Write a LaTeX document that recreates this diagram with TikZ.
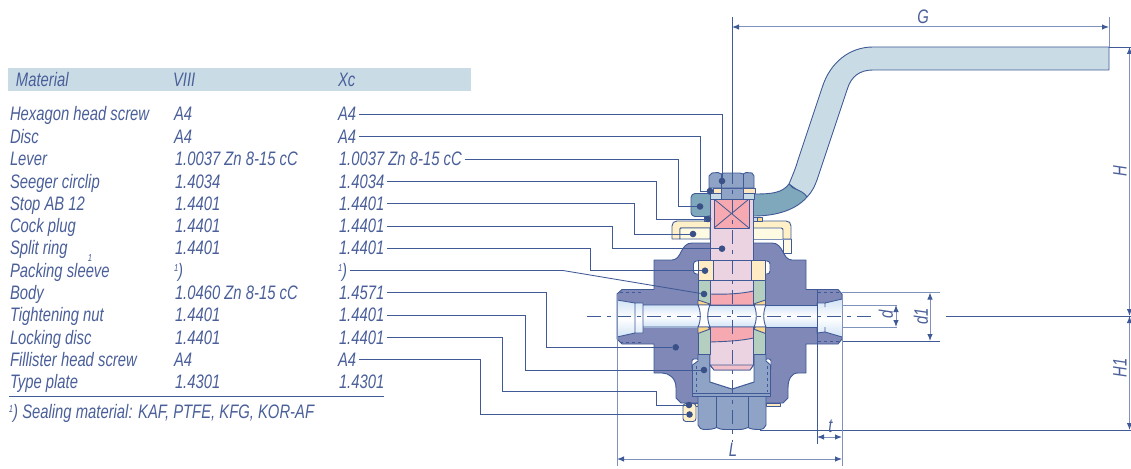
\documentclass[tikz,border=0pt]{standalone}
\usepackage{fontspec}
\setmainfont[FakeStretch=0.76]{Liberation Sans}
\usetikzlibrary{arrows.meta}
\definecolor{linecol}{HTML}{3F5A96}
\definecolor{textcol}{HTML}{4A5F99}
\definecolor{dimcol}{HTML}{7F92BC}
\definecolor{bandcol}{HTML}{C9DCE6}
\definecolor{bodycol}{HTML}{7F88B6}
\definecolor{boltcol}{HTML}{8FA3C6}
\definecolor{levercol}{HTML}{7FA8BC}
\definecolor{plugcol}{HTML}{ECD3E2}
\definecolor{redcol}{HTML}{F6A9B0}
\definecolor{ringcol}{HTML}{FFEBC4}
\definecolor{wedgecol}{HTML}{FFD58A}
\definecolor{stopcol}{HTML}{FFF0C8}
\definecolor{creamcol}{HTML}{FFFBE3}
\definecolor{greencol}{HTML}{B4CFBF}
\definecolor{borecol}{HTML}{D2E3F6}
\newcommand{\fnmark}{\raisebox{5.5pt}{\fontsize{10}{10}\selectfont 1}}
\tikzset{
  celltext/.style={anchor=west,inner sep=0pt,outer xsep=3pt,text=textcol,text height=13pt,text depth=0pt,
    font=\fontsize{19.5}{21}\selectfont\itshape},
  dimtext/.style={inner sep=0pt,text=textcol,font=\fontsize{19.5}{21}\selectfont\itshape},
  part/.style={draw=linecol,line width=.9pt,line join=round},
  leader/.style={draw=linecol,line width=.9pt},
  partdot/.style={circle,fill=linecol!90!black,inner sep=0pt,minimum size=6.6pt},
  dimline/.style={draw=dimcol,line width=1pt,{Latex[length=7pt,width=5.5pt,color=linecol]}-{Latex[length=7pt,width=5.5pt,color=linecol]}},
  extline/.style={draw=linecol,line width=.9pt},
  centreline/.style={draw=linecol,line width=.8pt,dash pattern=on 14pt off 6pt on 4pt off 6pt},
  bore/.style={top color=borecol,bottom color=borecol,middle color=white}
}
\begin{document}
\begin{tikzpicture}[x=1pt,y=-1pt]
    \useasboundingbox (0,0) rectangle (1131,468);

    % Table head
    \fill[bandcol] (8,68) rectangle (471,91);
    \node[celltext] (headmat) at (13,80.5) {Material};
    \node[celltext] (headviii) at (170,80.5) {VIII};
    \node[celltext] (headxc) at (335,80.5) {Xc};

    % Table rows
    \node[celltext] (namehex) at (7,114.5) {Hexagon head screw};
    \node[celltext] (viiihex) at (171,114.5) {A4};
    \node[celltext] (xchex) at (335,114.5) {A4};
    \node[celltext] (namedisc) at (7,136.8) {Disc};
    \node[celltext] (viiidisc) at (171,136.8) {A4};
    \node[celltext] (xcdisc) at (335,136.8) {A4};
    \node[celltext] (namelever) at (7,159) {Lever};
    \node[celltext] (viiilever) at (172,159) {1.0037 Zn 8-15 cC};
    \node[celltext] (xclever) at (336,159) {1.0037 Zn 8-15 cC};
    \node[celltext] (nameclip) at (7,181.5) {Seeger circlip};
    \node[celltext] (viiiclip) at (172,181.5) {1.4034};
    \node[celltext] (xcclip) at (336,181.5) {1.4034};
    \node[celltext] (namestop) at (7,203.7) {Stop AB 12};
    \node[celltext] (viiistop) at (172,203.7) {1.4401};
    \node[celltext] (xcstop) at (336,203.7) {1.4401};
    \node[celltext] (nameplug) at (7,226) {Cock plug};
    \node[celltext] (viiiplug) at (172,226) {1.4401};
    \node[celltext] (xcplug) at (336,226) {1.4401};
    \node[celltext] (namering) at (7,248) {Split ring};
    \node[celltext] (viiiring) at (172,248) {1.4401};
    \node[celltext] (xcring) at (336,248) {1.4401};
    \node[celltext] (namesleeve) at (7,270.5) {Packing sleeve};
    \node[celltext] (viiisleeve) at (171,270.5) {\fnmark)};
    \node[celltext] (xcsleeve) at (335,270.5) {\fnmark)};
    \node[inner sep=0pt,text=textcol,font=\fontsize{10}{10}\selectfont\itshape] (stray) at (90,258.5) {1};
    \node[celltext] (namebody) at (7,292.7) {Body};
    \node[celltext] (viiibody) at (172,292.7) {1.0460 Zn 8-15 cC};
    \node[celltext] (xcbody) at (336,292.7) {1.4571};
    \node[celltext] (namenut) at (7,315) {Tightening nut};
    \node[celltext] (viiinut) at (172,315) {1.4401};
    \node[celltext] (xcnut) at (336,315) {1.4401};
    \node[celltext] (namelock) at (7,337.5) {Locking disc};
    \node[celltext] (viiilock) at (172,337.5) {1.4401};
    \node[celltext] (xclock) at (336,337.5) {1.4401};
    \node[celltext] (namefill) at (7,359.7) {Fillister head screw};
    \node[celltext] (viiifill) at (171,359.7) {A4};
    \node[celltext] (xcfill) at (335,359.7) {A4};
    \node[celltext] (nametype) at (7,381.8) {Type plate};
    \node[celltext] (viiitype) at (172,381.8) {1.4301};
    \node[celltext] (xctype) at (336,381.8) {1.4301};
    \draw[leader] (9,396) -- (384,396);
    \node[celltext] (footnote) at (6,411.5) {\fnmark) Sealing material: KAF, PTFE, KFG, KOR-AF};

    % Lever
    \draw[part,fill=bandcol] (789,184) .. controls (794,172) and (796,167) .. (798,160) -- (822,88)
        .. controls (830,62) and (850,47) .. (873,47) -- (1109,47) -- (1109,70) -- (873,70)
        .. controls (860,70) and (851,76) .. (847,90) -- (818,177) .. controls (815,186) and (812,192) .. (807,197) -- cycle;
    \draw[part,fill=levercol] (750,194) -- (754,194) .. controls (772,194) and (782,193) .. (789,184)
        .. controls (792,190) and (802,189) .. (807,197) .. controls (796,210) and (776,216) .. (754,216) -- (750,216) -- cycle;
    \draw[part,fill=levercol,rounded corners=4pt] (712,193.5) -- (691,193.5) -- (691,216.5) -- (712,216.5) -- cycle;

    % Stop, the body is laid over it
    \fill[creamcol] (753,228.5) -- (781,228.5) .. controls (782.5,228.5) and (783,229) .. (783,230) -- (783,239) -- (753,239) -- cycle;
    \fill[creamcol] (783,239) rectangle (791,253);
    \draw[part,fill=stopcol] (672,239) -- (672,226) .. controls (672,223) and (674,221) .. (677,221) -- (786,221)
        .. controls (789,221) and (791,223) .. (791,226) -- (791,239) -- (783,239) -- (783,230) .. controls (783,229) and (782.5,228) .. (781,228) -- (682,228) .. controls (681,228) and (680,228) .. (680,229) -- (680,239) -- cycle;
    \draw[part,fill=creamcol] (680,239) -- (680,229) .. controls (680,228) and (681,228) .. (682,228) -- (710,228) -- (710,239) -- cycle;
    \draw[part] (783,239) -- (783,253) -- (791,253) -- (791,239);
    \draw[dimcol,line width=.9pt] (753,239) -- (791,239);

    % Body
    \draw[part,fill=bodycol] (617,294) -- (622,289.5) -- (654,289.5) -- (654,260) -- (672,260)
        .. controls (682,260) and (680,243) .. (692,243) -- (772,243) .. controls (784,243) and (782,260) .. (792,260)
        -- (806,260) -- (806,289.5) -- (838,289.5) -- (842,294) -- (842,339) -- (838,344) -- (806,344) -- (806,373) -- (798,373)
        .. controls (791,373) and (788,380) .. (788,388) -- (788,398) -- (783,403) -- (681,403) -- (676,398) -- (676,388)
        .. controls (676,378) and (669,373) .. (662,373) -- (654,373) -- (654,344) -- (622,344) -- (617,339) -- cycle;
    \draw[linecol,line width=1pt,dashed] (620,292) -- (642,292) (620,342) -- (642,342) (818,292) -- (840,292) (818,341) -- (840,341);

    % Bore
    \shade[bore] (617,305) rectangle (842,327);
    \shade[bore] (617,300) -- (635,303) -- (643,303) -- (643,333) -- (635,333) -- (617,337) -- cycle;
    \shade[bore] (817,303) -- (825,303) -- (842,299) -- (842,337) -- (825,332) -- (817,333) -- cycle;
    \draw[part] (617,300) -- (635,303) -- (643,303) -- (643,305) -- (698,305) (617,337) -- (635,333) -- (643,333) -- (643,327) -- (698,327) (635,303) -- (635,333) (643,305) -- (643,327);
    \draw[part] (766,305) -- (817,305) (766,327) -- (817,327);
    \draw[part] (817,305) -- (817,303) -- (825,303) -- (842,299) (817,327) -- (817,333) -- (825,332) -- (842,337) (825,303) -- (825,307) (825,327) -- (825,332);

    % Stem with the square
    \draw[part,fill=plugcol] (710,199) rectangle (753.5,305);
    \draw[part,fill=redcol] (714,199) rectangle (749,228);
    \draw[linecol,line width=.8pt] (714,199) -- (749,228) (714,228) -- (749,199);
    \draw[part,fill=redcol] (710,294) .. controls (725,294.5) and (740,294) .. (753.5,291) -- (753.5,305) -- (710,305) -- cycle;
    \draw[part,fill=boltcol] (721,188) rectangle (743,199);

    % Screw head, disc, circlip
    \draw[part,fill=bandcol] (710,193) rectangle (721,199);
    \draw[part,fill=bandcol] (743,193) rectangle (754,199);
    \draw[part,fill=wedgecol!55!white] (713,188) rectangle (721,193);
    \draw[part,fill=wedgecol!55!white] (743,188) rectangle (755.5,193);
    \draw[part,fill=boltcol] (709,188) -- (709,176) -- (712,173) -- (718,172.5) -- (721,174) -- (724,173) -- (740,173) -- (743,174) -- (746,172.5) -- (752,173) -- (754,176) -- (754,188) -- cycle;
    \draw[linecol,line width=.8pt] (721,174) -- (721,188) (743,174) -- (743,188);
    \draw[part,fill=white] (704,217) rectangle (710,221);
    \draw[part,fill=bandcol] (753.5,217) rectangle (757,221);
    \draw[part,fill=wedgecol] (757,217) -- (762,217) -- (762,221) -- (757,221) -- cycle;

    % Packing stack above the bore
    \draw[part,fill=white,rounded corners=3pt] (693.5,261) rectangle (703,274);
    \draw[part,fill=white,rounded corners=3pt] (760,261) rectangle (770,274);
    \draw[part,fill=ringcol] (698,260.5) rectangle (713,280);
    \draw[part,fill=ringcol] (751,260.5) rectangle (765.5,280);
    \draw[part,fill=plugcol] (713,260.5) rectangle (751,280);
    \draw[part,fill=greencol] (698,280) rectangle (710,305);
    \draw[part,fill=greencol] (753.5,280) rectangle (765.5,305);
    \draw[part,fill=wedgecol] (698,300) -- (710,304) -- (708,305) -- (698,305) -- cycle;
    \draw[part,fill=wedgecol] (765.5,300) -- (753.5,304) -- (755.5,305) -- (765.5,305) -- cycle;

    % Pockets in the bore
    \draw[part,fill=white] (698,305) .. controls (701,311) and (701,321) .. (698,327) -- (710,327) .. controls (707,321) and (707,311) .. (710,305) -- cycle;
    \draw[part,fill=white] (754,305) .. controls (757,311) and (757,321) .. (754,327) -- (766,327) .. controls (763,321) and (763,311) .. (766,305) -- cycle;

    % Tightening nut and its screw
    \draw[part,fill=white,rounded corners=2pt] (692,359) rectangle (699,370);
    \draw[part,fill=white,rounded corners=2pt] (765,359) rectangle (771,370);
    \draw[part,fill=boltcol] (698,354) -- (710,354) -- (710,382) -- (732,389) -- (754,382) -- (754,354) -- (766,354) -- (766,361) -- (770.5,365) -- (770.5,396.5) -- (692.5,396.5) -- (692.5,365) -- (698,361) -- cycle;
    \fill[white] (710,354) -- (710,382) -- (732,389) -- (754,382) -- (754,354) -- cycle;
    \draw[part] (710,354) -- (710,382) -- (732,389) -- (754,382) -- (754,354);
    \draw[linecol,line width=.9pt,dashed] (696,366) -- (696,392) (767,366) -- (767,392);
    \draw[linecol,line width=.9pt] (692.5,393) -- (770.5,393);
    \draw[part,fill=wedgecol!55!white] (766,403) rectangle (780,406);
    \draw[part,fill=wedgecol!55!white] (690,403) rectangle (698,406);
    \draw[part,fill=stopcol,rounded corners=3pt] (683,403.5) -- (696,403.5) -- (696,421.5) -- (683,421.5) -- cycle;
    \draw[part,fill=boltcol] (698,396.5) -- (698,425) .. controls (699,428) and (701,429.5) .. (705,429.5)
        .. controls (710,429.5) and (714,429) .. (716.5,427.5) .. controls (719,429) and (722,429.5) .. (726,429.5)
        -- (738,429.5) .. controls (742,429.5) and (745.5,429) .. (748,427.5) .. controls (750.5,429) and (754,429.5) .. (759,429.5)
        .. controls (763,429.5) and (765,428) .. (766,425) -- (766,396.5) -- cycle;
    \draw[linecol,line width=.9pt] (716.5,396.5) -- (716.5,427.5) (748,396.5) -- (748,427.5);

    % Stack below the bore
    \draw[part,fill=plugcol] (710,327) -- (753.5,327) -- (753.5,365) -- (750,370) -- (714,370) -- (710,365) -- cycle;
    \draw[part,fill=redcol] (710,327) -- (753.5,327) -- (753.5,338) .. controls (740,341) and (725,341.5) .. (710,342) -- cycle;
    \draw[part,fill=redcol!45!plugcol] (710,365) -- (753.5,365) -- (750,370) -- (714,370) -- cycle;
    \draw[part,fill=greencol] (698,327) rectangle (710,354);
    \draw[part,fill=greencol] (753.5,327) rectangle (765.5,354);
    \draw[part,fill=wedgecol] (698,327) -- (708,327) -- (710,329) -- (698,333.5) -- cycle;
    \draw[part,fill=wedgecol] (765.5,327) -- (755.5,327) -- (753.5,329) -- (765.5,333.5) -- cycle;

    % Centre lines
    \coordinate (axisl) at (587,316);
    \coordinate (axisr) at (872,316);
    \coordinate (axist) at (732,170);
    \coordinate (axisb) at (732,442);
    \draw[centreline] (axisl) -- (axisr);
    \draw[centreline] (axist) -- (axisb);

    % Extension lines
    \draw[extline] (732,17) -- (732,173);
    \draw[extline,draw=dimcol] (1109,17) -- (1109,47);
    \draw[extline] (1109,47) -- (1131,47);
    \draw[extline] (946,316) -- (1131,316);
    \draw[extline] (760,430) -- (1131,430);
    \draw[extline,draw=dimcol] (842,292) -- (940,292);
    \draw[extline] (842,341) -- (940,341);
    \draw[extline,draw=dimcol] (842,305) -- (897,305);
    \draw[extline,draw=dimcol] (842,327) -- (897,327);
    \draw[extline] (817,290) -- (817,444);
    \draw[extline,draw=dimcol] (842,294) -- (842,466);
    \draw[extline,draw=dimcol] (617,294) -- (617,466);

    % Dimensions
    \coordinate (gl) at (732,27);
    \coordinate (gr) at (1109,27);
    \draw[dimline] (gl) -- (gr);
    \node[dimtext] (labelg) at (923,17) {G};
    \coordinate (ht) at (1129.5,47);
    \coordinate (hm) at (1129.5,316);
    \coordinate (hb) at (1129.5,430);
    \draw[dimline] (ht) -- (hm);
    \draw[dimline] (hm) -- (hb);
    \node[dimtext,rotate=90] (labelh) at (1120,171) {H};
    \node[dimtext,rotate=90] (labelhone) at (1120,368) {H1};
    \coordinate (donet) at (930,292.5);
    \coordinate (doneb) at (930,341);
    \draw[dimline] (donet) -- (doneb);
    \node[dimtext,rotate=90] (labeldone) at (921,316) {d1};
    \coordinate (dt) at (896,305);
    \coordinate (db) at (896,327);
    \draw[dimline] (dt) -- (db);
    \node[dimtext,rotate=90] (labeld) at (886,314) {d};
    \coordinate (tl) at (817,437);
    \coordinate (tr) at (842,437);
    \draw[dimline] (tl) -- (tr);
    \node[dimtext] (labelt) at (830.5,426) {t};
    \coordinate (ll) at (617,459);
    \coordinate (lr) at (842,459);
    \draw[dimline] (ll) -- (lr);
    \node[dimtext] (labell) at (733,450) {L};

    % Part markers
    \node[partdot] (dothex) at (722,181) {};
    \node[partdot] (dotdisc) at (710,191) {};
    \node[partdot] (dotlever) at (700,206.5) {};
    \node[partdot] (dotclip) at (708,219) {};
    \node[partdot] (dotstop) at (693,234) {};
    \node[partdot] (dotplug) at (722,248.7) {};
    \node[partdot] (dotring) at (705,270.7) {};
    \node[partdot] (dotsleeve) at (704,294) {};
    \node[partdot] (dotbody) at (675.7,347.3) {};
    \node[partdot] (dotnut) at (704,370) {};
    \node[partdot] (dotlock) at (689,405) {};
    \node[partdot] (dotfill) at (689.5,414.5) {};

    % Bends of the leaders
    \coordinate (benddisc) at (700,191);
    \coordinate (bendlever) at (678,206.5);
    \coordinate (bendclip) at (656,219);
    \coordinate (bendstop) at (634.5,234);
    \coordinate (bendplug) at (612.5,248.7);
    \coordinate (bendring) at (590,270.7);
    \coordinate (bendsleeve) at (563,270.5);
    \coordinate (bendbody) at (546,347.3);
    \coordinate (bendnut) at (525,370);
    \coordinate (bendlocka) at (502,391);
    \coordinate (bendlockb) at (656,405);
    \coordinate (bendfill) at (480,414.5);

    % Leaders
    \draw[leader] (xchex.east) -| (dothex);
    \draw[leader] (xcdisc.east) -| (benddisc) -- (dotdisc);
    \draw[leader] (xclever.east) -| (bendlever) -- (dotlever);
    \draw[leader] (xcclip.east) -| (bendclip) -- (dotclip);
    \draw[leader] (xcstop.east) -| (bendstop) -- (dotstop);
    \draw[leader] (xcplug.east) -| (bendplug) -- (dotplug);
    \draw[leader] (xcring.east) -| (bendring) -- (dotring);
    \draw[leader] (xcsleeve.east) -- (bendsleeve) -- (dotsleeve);
    \draw[leader] (xcbody.east) -| (bendbody) -- (dotbody);
    \draw[leader] (xcnut.east) -| (bendnut) -- (dotnut);
    \draw[leader] (xclock.east) -| (bendlocka) -| (bendlockb) -- (dotlock);
    \draw[leader] (xcfill.east) -| (bendfill) -- (dotfill);
\end{tikzpicture}
\end{document}
